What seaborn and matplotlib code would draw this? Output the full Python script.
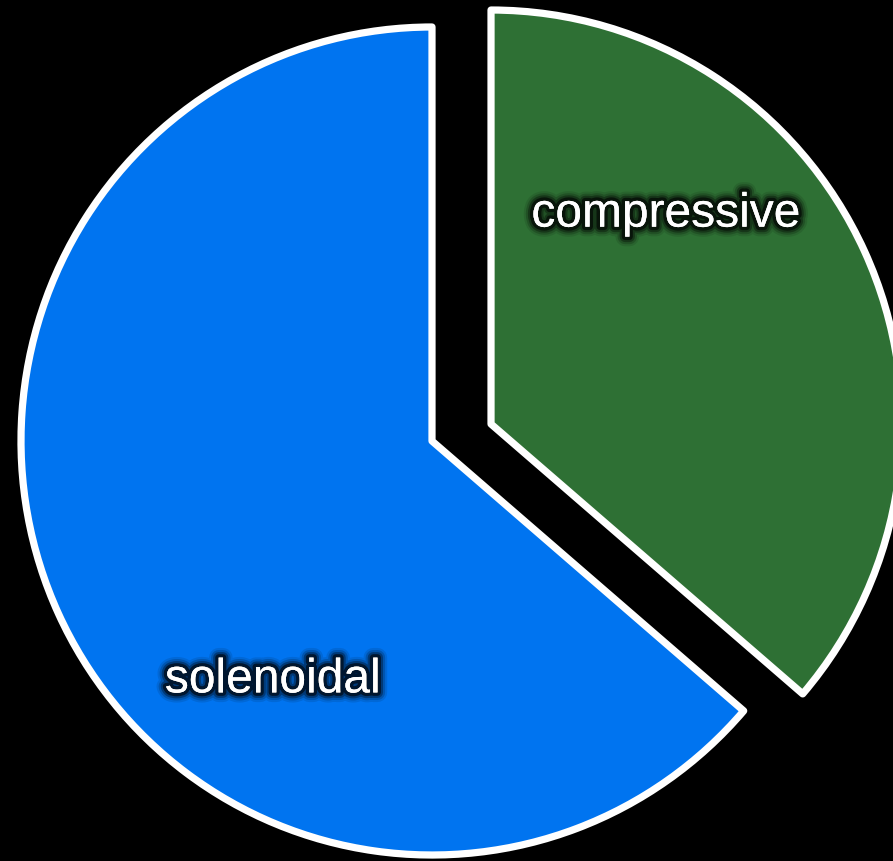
import matplotlib
matplotlib.use("Agg")
import matplotlib.pyplot as plt
import matplotlib.patheffects as pe
import seaborn as sns

# Share of energy in each forcing mode
modes = ["compressive", "solenoidal"]
shares = [36.3, 63.7]
mode_colors = ["#2E7034", "#0074F0"]

sns.set_theme(style="white")
plt.rcParams["font.family"] = ["Liberation Sans", "DejaVu Sans"]

fig = plt.figure(figsize=(8.93, 8.62), dpi=100, facecolor="black")
ax = fig.add_axes([0, 0, 1, 1])
ax.set_facecolor("black")

wedges, _ = ax.pie(
    shares,
    colors=mode_colors,
    startangle=90,
    counterclock=False,
    radius=1.0,
    wedgeprops=dict(edgecolor="white", linewidth=5.2, joinstyle="round"),
)
# pull the compressive slice out of the pie
wedges[0].set_center((0.1436, 0.041))

glow = [
    pe.withStroke(linewidth=14, foreground="black", alpha=0.1),
    pe.withStroke(linewidth=11, foreground="black", alpha=0.18),
    pe.withStroke(linewidth=8, foreground="black", alpha=0.32),
    pe.withStroke(linewidth=5, foreground="black", alpha=0.6),
    pe.Normal(),
]
label_pos = [(0.569, 0.548), (-0.387, -0.577)]
for name, (lx, ly) in zip(modes, label_pos):
    ax.text(lx, ly, name, color="white", fontsize=34.5, ha="center", va="center",
            path_effects=glow)

ax.set_xlim(-432 / 411, (893 - 432) / 411)
ax.set_ylim(-(862 - 442) / 414, 442 / 414)
ax.set_aspect("auto")
ax.axis("off")

fig.savefig("out.png", dpi=100, facecolor="black")
